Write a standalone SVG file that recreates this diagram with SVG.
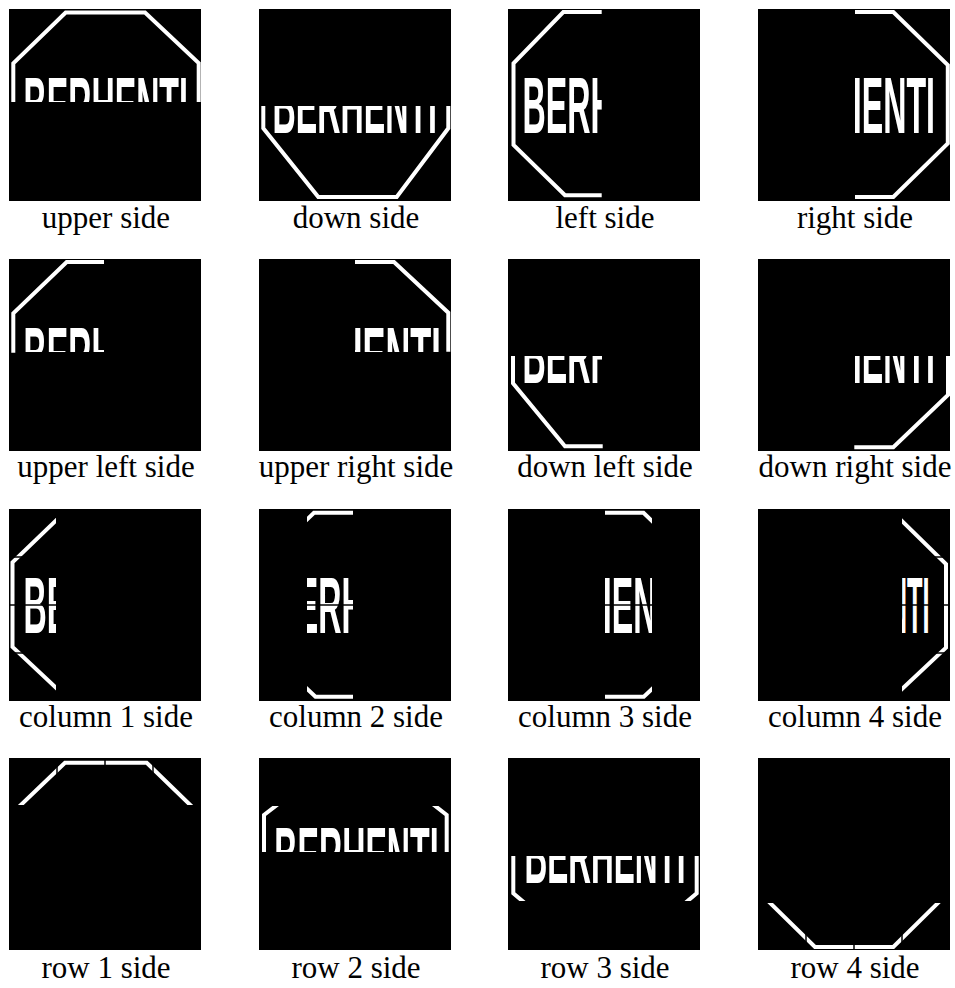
<svg xmlns="http://www.w3.org/2000/svg" width="955" height="988" viewBox="0 0 955 988">
<style>
.bg{fill:#000}
.ln{fill:none;stroke:#fff;stroke-width:4;stroke-linejoin:miter;stroke-linecap:butt}
.sign{font-family:"Liberation Sans",Arial,sans-serif;font-weight:bold;font-size:80px;fill:#fff}
.cut{stroke:#000;stroke-width:1.5}
.lbl{font-family:"Liberation Serif","Times New Roman",serif;font-size:31px;fill:#000;text-anchor:middle}
</style>
<defs>
<path id="octC" d="M55,3.7 L135.5,3.7 L188,55 L188,138.7 L135.8,187.7 L56.5,187.7 L3.5,138 L3.5,53.3 Z"/>
<clipPath id="cTop" clipPathUnits="userSpaceOnUse"><rect x="0" y="0" width="192" height="93"/></clipPath>
<clipPath id="cBot" clipPathUnits="userSpaceOnUse"><rect x="0" y="97" width="192" height="95"/></clipPath>
<clipPath id="cLeft" clipPathUnits="userSpaceOnUse"><rect x="0" y="0" width="93.7" height="192"/></clipPath>
<clipPath id="cRight" clipPathUnits="userSpaceOnUse"><rect x="97" y="0" width="95" height="192"/></clipPath>
<clipPath id="cUL" clipPathUnits="userSpaceOnUse"><rect x="0" y="0" width="95" height="93"/></clipPath>
<clipPath id="cUR" clipPathUnits="userSpaceOnUse"><rect x="96" y="0" width="96" height="93"/></clipPath>
<clipPath id="cDL" clipPathUnits="userSpaceOnUse"><rect x="0" y="97" width="94" height="95"/></clipPath>
<clipPath id="cDR" clipPathUnits="userSpaceOnUse"><rect x="97" y="97" width="95" height="95"/></clipPath>
<clipPath id="cC1" clipPathUnits="userSpaceOnUse"><rect x="0" y="0" width="47" height="192"/></clipPath>
<clipPath id="cC2" clipPathUnits="userSpaceOnUse"><rect x="48" y="0" width="46" height="192"/></clipPath>
<clipPath id="cC3" clipPathUnits="userSpaceOnUse"><rect x="97" y="0" width="47" height="192"/></clipPath>
<clipPath id="cC4" clipPathUnits="userSpaceOnUse"><rect x="144" y="0" width="48" height="192"/></clipPath>
<clipPath id="cR1" clipPathUnits="userSpaceOnUse"><rect x="0" y="0" width="192" height="47"/></clipPath>
<clipPath id="cR2" clipPathUnits="userSpaceOnUse"><rect x="0" y="48" width="192" height="46"/></clipPath>
<clipPath id="cR3" clipPathUnits="userSpaceOnUse"><rect x="0" y="98" width="192" height="45"/></clipPath>
<clipPath id="cR4" clipPathUnits="userSpaceOnUse"><rect x="0" y="145" width="192" height="47"/></clipPath>
</defs>
<rect width="955" height="988" fill="#fff"/>

<g id="upper-side" transform="translate(9,9)">
<rect class="bg" width="192" height="192"/>
<polyline class="ln" points="4.3,93 4.3,54.3 56.7,3.5 136,3.5 189.7,54 189.7,93"/>
<g clip-path="url(#cTop)"><text class="sign" transform="translate(14.6,124) scale(0.402,1)">BERHENTI</text></g>
<text class="lbl" x="97" y="219">upper side</text>
</g>

<g id="down-side" transform="translate(259,9)">
<rect class="bg" width="192" height="192"/>
<polyline class="ln" points="4.3,97 4.3,119.3 59.3,188 137.7,188 189.3,119.3 189.3,97"/>
<g clip-path="url(#cBot)"><text class="sign" transform="translate(13.6,124) scale(0.402,1)">BERHENTI</text></g>
<text class="lbl" x="97" y="219">down side</text>
</g>

<g id="left-side" transform="translate(508,9)">
<rect class="bg" width="192" height="192"/>
<polyline class="ln" points="93.7,3 55.3,3 5.5,54.3 5.5,136 57,186.3 93.7,186.3"/>
<g clip-path="url(#cLeft)"><text class="sign" transform="translate(14.6,124) scale(0.402,1)">BERH</text></g>
<text class="lbl" x="97" y="219">left side</text>
</g>

<g id="right-side" transform="translate(758,9)">
<rect class="bg" width="192" height="192"/>
<polyline class="ln" points="97,3 135.3,3 189.8,56 189.8,134.3 135.3,188 97,188"/>
<g clip-path="url(#cRight)"><text class="sign" transform="translate(80.5,124) scale(0.402,1)">HENTI</text></g>
<text class="lbl" x="97" y="219">right side</text>
</g>

<g id="upper-left-side" transform="translate(9,259)">
<rect class="bg" width="192" height="192"/>
<polyline class="ln" points="95,3 57.7,3 4.3,54.3 4.3,93.7"/>
<g clip-path="url(#cUL)"><text class="sign" transform="translate(14.6,124) scale(0.402,1)">BERH</text></g>
<text class="lbl" x="97" y="218">upper left side</text>
</g>

<g id="upper-right-side" transform="translate(259,259)">
<rect class="bg" width="192" height="192"/>
<polyline class="ln" points="96,3 135,3 189.3,53.7 189.3,92.7"/>
<g clip-path="url(#cUR)"><text class="sign" transform="translate(78.7,124) scale(0.43,1)">HENTI</text></g>
<text class="lbl" x="97" y="218">upper right side</text>
</g>

<g id="down-left-side" transform="translate(508,259)">
<rect class="bg" width="192" height="192"/>
<polyline class="ln" points="5,97 5,124.3 57,187.3 94.7,187.3"/>
<g clip-path="url(#cDL)"><text class="sign" transform="translate(14.6,124) scale(0.402,1)">BERH</text></g>
<text class="lbl" x="97" y="218">down left side</text>
</g>

<g id="down-right-side" transform="translate(758,259)">
<rect class="bg" width="192" height="192"/>
<polyline class="ln" points="190,97 190,136 135.3,188.3 96.3,188.3"/>
<g clip-path="url(#cDR)"><text class="sign" transform="translate(80.5,124) scale(0.402,1)">HENTI</text></g>
<text class="lbl" x="97" y="218">down right side</text>
</g>

<g id="column-1-side" transform="translate(9,509)">
<rect class="bg" width="192" height="192"/>
<use href="#octC" class="ln" clip-path="url(#cC1)"/>
<g clip-path="url(#cC1)"><text class="sign" transform="translate(14.6,124) scale(0.402,1)">BE</text></g>
<line class="cut" x1="0" y1="48" x2="192" y2="48"/>
<line class="cut" x1="0" y1="96" x2="192" y2="96"/>
<line class="cut" x1="0" y1="144" x2="192" y2="144"/>
<text class="lbl" x="97" y="218">column 1 side</text>
</g>

<g id="column-2-side" transform="translate(259,509)">
<rect class="bg" width="192" height="192"/>
<use href="#octC" class="ln" clip-path="url(#cC2)"/>
<g clip-path="url(#cC2)"><text class="sign" transform="translate(37.8,124) scale(0.402,1)">ERH</text></g>
<line class="cut" x1="0" y1="96" x2="192" y2="96"/>
<text class="lbl" x="97" y="218">column 2 side</text>
</g>

<g id="column-3-side" transform="translate(508,509)">
<rect class="bg" width="192" height="192"/>
<use href="#octC" class="ln" clip-path="url(#cC3)"/>
<g clip-path="url(#cC3)"><text class="sign" transform="translate(80.5,124) scale(0.402,1)">HEN</text></g>
<line class="cut" x1="0" y1="96" x2="192" y2="96"/>
<text class="lbl" x="97" y="218">column 3 side</text>
</g>

<g id="column-4-side" transform="translate(758,509)">
<rect class="bg" width="192" height="192"/>
<use href="#octC" class="ln" clip-path="url(#cC4)"/>
<g clip-path="url(#cC4)"><text class="sign" transform="translate(130.7,124) scale(0.3175,1)">NTI</text></g>
<line class="cut" x1="0" y1="48" x2="192" y2="48"/>
<line class="cut" x1="0" y1="96" x2="192" y2="96"/>
<line class="cut" x1="0" y1="144" x2="192" y2="144"/>
<text class="lbl" x="97" y="218">column 4 side</text>
</g>

<g id="row-1-side" transform="translate(9,758)">
<rect class="bg" width="192" height="192"/>
<polyline class="ln" points="4,54.5 56,4.7 137.7,4.7 189,54.5" clip-path="url(#cR1)"/>
<line class="cut" x1="48" y1="0" x2="48" y2="192"/>
<line class="cut" x1="96" y1="0" x2="96" y2="192"/>
<line class="cut" x1="144" y1="0" x2="144" y2="192"/>
<text class="lbl" x="97" y="220">row 1 side</text>
</g>

<g id="row-2-side" transform="translate(259,758)">
<rect class="bg" width="192" height="192"/>
<polyline class="ln" points="27,40 5,57 5,100" clip-path="url(#cR2)"/>
<polyline class="ln" points="166,40 187.7,57 187.7,100" clip-path="url(#cR2)"/>
<g clip-path="url(#cR2)"><text class="sign" transform="translate(15.3,125) scale(0.402,1)">BERHENTI</text></g>
<text class="lbl" x="97" y="220">row 2 side</text>
</g>

<g id="row-3-side" transform="translate(508,758)">
<rect class="bg" width="192" height="192"/>
<polyline class="ln" points="5.3,90 5.3,135.3 18,146" clip-path="url(#cR3)"/>
<polyline class="ln" points="188.7,90 188.7,135.3 176,146" clip-path="url(#cR3)"/>
<g clip-path="url(#cR3)"><text class="sign" transform="translate(16.5,124.5) scale(0.3937,1)">BERHENTI</text></g>
<text class="lbl" x="97" y="220">row 3 side</text>
</g>

<g id="row-4-side" transform="translate(758,758)">
<rect class="bg" width="192" height="192"/>
<polyline class="ln" points="5,138 57,189 135.3,189 187,138" clip-path="url(#cR4)"/>
<line class="cut" x1="48" y1="0" x2="48" y2="192"/>
<line class="cut" x1="96" y1="0" x2="96" y2="192"/>
<line class="cut" x1="144" y1="0" x2="144" y2="192"/>
<text class="lbl" x="97" y="220">row 4 side</text>
</g>
</svg>
